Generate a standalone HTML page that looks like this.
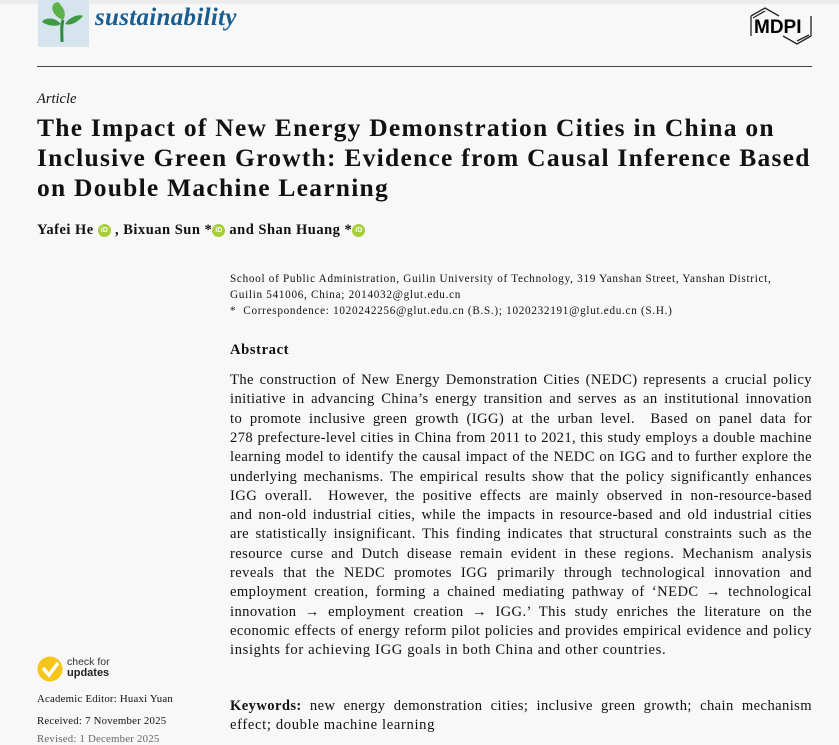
<!DOCTYPE html>
<html><head><meta charset="utf-8"><style>
html,body{margin:0;padding:0}
body{width:839px;height:737px;background:#f8f8f8;position:relative;overflow:hidden;font-family:"Liberation Serif",serif;color:#111}
.a{position:absolute;white-space:nowrap}
.j{position:absolute;left:230px;width:582px;text-align:justify;text-align-last:justify;white-space:nowrap;font-size:14.6px;line-height:19px;letter-spacing:0.4px}
.j.l{text-align-last:left;letter-spacing:0.65px}
.t{font-weight:bold;font-size:25.5px;left:37px;letter-spacing:1.25px}
.orc{display:inline-block;width:13px;height:13px;border-radius:50%;background:#a6ce39;color:#fff;font:bold 7px "Liberation Sans",sans-serif;text-align:center;line-height:13px;vertical-align:2px;letter-spacing:0}
.aff{font-size:11.2px;left:230px;letter-spacing:0.7px}
.bl{font-size:10.8px;left:37px;letter-spacing:0.22px}
</style></head><body>
<div class="a" style="left:0;top:0;width:839px;height:4px;background:#ececec"></div>
<div class="a" style="left:38px;top:0;width:51px;height:47px;background:#d6e4ee"></div>
<svg class="a" style="left:38px;top:0" width="51" height="47" viewBox="0 0 51 47">
<path d="M24 42 C24 32 23 26 25 20" stroke="#2e8b3e" stroke-width="3" fill="none"/>
<path d="M25 20 C14 16 10 4 20 2 C26 8 29 14 25 20Z" fill="#5bb347"/>
<path d="M23 24 C16 16 6 18 4 22 C10 26 18 27 23 24Z" fill="#3d9a42"/>
<path d="M27 24 C32 16 42 14 45 16 C40 22 33 26 27 24Z" fill="#3d9a42"/>
</svg>
<div class="a" style="left:95px;top:4px;font-size:25px;font-style:italic;font-weight:bold;color:#1a5d91;letter-spacing:0.3px">sustainability</div>
<svg class="a" style="left:749px;top:4px" width="64" height="44" viewBox="0 0 64 44">
<path d="M2 12 L16 4 L30 12 M2 12 L2 32 M4 14 L16 7" stroke="#222" stroke-width="1.3" fill="none"/>
<path d="M62 32 L48 40 L34 32 M62 32 L62 12 M60 31 L48 37" stroke="#222" stroke-width="1.3" fill="none"/>
<text x="5" y="29" font-family="Liberation Sans" font-weight="bold" font-size="19" fill="#000">MDPI</text>
</svg>
<div class="a" style="left:37px;top:66px;width:775px;height:1px;background:#444"></div>
<div class="a" style="left:37px;top:91px;font-size:14.5px;font-style:italic">Article</div>
<div class="a t" style="top:113px">The Impact of New Energy Demonstration Cities in China on</div>
<div class="a t" style="top:143px">Inclusive Green Growth: Evidence from Causal Inference Based</div>
<div class="a t" style="top:173px">on Double Machine Learning</div>
<div class="a" style="left:37px;top:222px;font-size:14.5px;font-weight:bold;letter-spacing:0.5px">Yafei He <span class="orc">iD</span> , Bixuan Sun *<span class="orc">iD</span> and Shan Huang *<span class="orc">iD</span></div>
<div class="a aff" style="top:273px">School of Public Administration, Guilin University of Technology, 319 Yanshan Street, Yanshan District,</div>
<div class="a aff" style="top:289px">Guilin 541006, China; 2014032@glut.edu.cn</div>
<div class="a aff" style="top:305px">*&nbsp; Correspondence: 1020242256@glut.edu.cn (B.S.); 1020232191@glut.edu.cn (S.H.)</div>
<div class="a" style="left:230px;top:342px;font-size:14.6px;font-weight:bold;letter-spacing:0.6px">Abstract</div>
<div class="j" style="top:371px">The construction of New Energy Demonstration Cities (NEDC) represents a crucial policy</div>
<div class="j" style="top:390.3px">initiative in advancing China’s energy transition and serves as an institutional innovation</div>
<div class="j" style="top:409.6px">to promote inclusive green growth (IGG) at the urban level. &nbsp;Based on panel data for</div>
<div class="j" style="top:428.9px">278 prefecture-level cities in China from 2011 to 2021, this study employs a double machine</div>
<div class="j" style="top:448.2px">learning model to identify the causal impact of the NEDC on IGG and to further explore the</div>
<div class="j" style="top:467.5px">underlying mechanisms. The empirical results show that the policy significantly enhances</div>
<div class="j" style="top:486.8px">IGG overall. &nbsp;However, the positive effects are mainly observed in non-resource-based</div>
<div class="j" style="top:506.1px">and non-old industrial cities, while the impacts in resource-based and old industrial cities</div>
<div class="j" style="top:525.4px">are statistically insignificant. This finding indicates that structural constraints such as the</div>
<div class="j" style="top:544.7px">resource curse and Dutch disease remain evident in these regions. Mechanism analysis</div>
<div class="j" style="top:564px">reveals that the NEDC promotes IGG primarily through technological innovation and</div>
<div class="j" style="top:583.3px">employment creation, forming a chained mediating pathway of ‘NEDC → technological</div>
<div class="j" style="top:602.6px">innovation → employment creation → IGG.’ This study enriches the literature on the</div>
<div class="j" style="top:621.9px">economic effects of energy reform pilot policies and provides empirical evidence and policy</div>
<div class="j l" style="top:641.2px">insights for achieving IGG goals in both China and other countries.</div>
<div class="j" style="top:697px"><b>Keywords:</b> new energy demonstration cities; inclusive green growth; chain mechanism</div>
<div class="j l" style="top:716.3px">effect; double machine learning</div>
<svg class="a" style="left:37px;top:656px" width="26" height="26" viewBox="0 0 26 26">
<circle cx="13" cy="13" r="12.5" fill="#f5c518"/>
<path d="M6 12 L12 19 L21 7" stroke="#fff" stroke-width="3.5" fill="none"/>
</svg>
<div class="a" style="left:67px;top:657px;font-family:'Liberation Sans',sans-serif;font-size:10.5px;line-height:11px;color:#333">check for<br><b style="font-size:11px;color:#222">updates</b></div>
<div class="a bl" style="top:693px">Academic Editor: Huaxi Yuan</div>
<div class="a bl" style="top:715px">Received: 7 November 2025</div>
<div class="a bl" style="top:733px;color:#666">Revised: 1 December 2025</div>
</body></html>
